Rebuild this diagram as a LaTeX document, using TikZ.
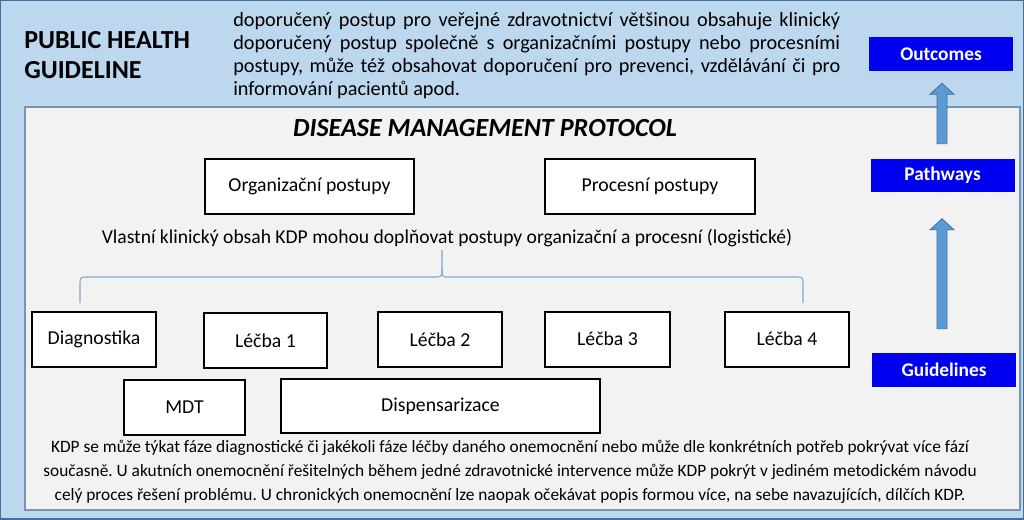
\documentclass[tikz,border=0pt]{standalone}
\usepackage{fontspec}
\setmainfont{Carlito}
\usetikzlibrary{calc}
\definecolor{outerblue}{HTML}{BDD7EE}
\definecolor{edgeblue}{HTML}{41719C}
\definecolor{innergrey}{HTML}{F2F2F2}
\definecolor{inneredge}{HTML}{7A93B0}
\definecolor{arrowblue}{HTML}{5B9BD5}
\definecolor{braceblue}{HTML}{7FA7CF}
\definecolor{levelblue}{HTML}{0000F0}
\newcommand{\blockarrow}[2]{% base, tip
	\draw [arrowbody] ($(#1)+(-5,0)$) -- ($(#2)+(-5,11)$) -- ($(#2)+(-12,11)$) -- (#2) -- ($(#2)+(12,11)$) -- ($(#2)+(5,11)$) -- ($(#1)+(5,0)$) -- cycle;}
\frenchspacing
\begin{document}
\begin{tikzpicture}[x=0.75pt,y=-0.75pt,
	stepbox/.style={draw, line width=1.5pt, fill=white, inner sep=0pt, minimum height=41.25pt, font=\fontsize{14.8}{17}\selectfont},
	levelbox/.style={fill=levelblue, text=white, inner sep=0pt, minimum width=108pt, minimum height=25.5pt, font=\fontsize{14.5}{17}\selectfont\bfseries},
	arrowbody/.style={fill=arrowblue, draw=edgeblue, line width=0.6pt},
	bracestyle/.style={draw=braceblue, line width=0.8pt}]
	\useasboundingbox (0,0) rectangle (1024,519);
	\fill [outerblue, draw=edgeblue, line width=1.5pt] (0,0) rectangle (1024,519);% Public health guideline
	\fill [innergrey, draw=inneredge, line width=0.8pt] (25,107) rectangle (1020,510);% Disease management protocol
	
	\node [anchor=west, align=left, inner sep=0pt, font=\fontsize{19.5}{22.5}\selectfont\bfseries] (phg) at (24,55) {PUBLIC HEALTH\\GUIDELINE};
	\node [anchor=north west, align=justify, text width=455.25pt, inner sep=0pt, font=\fontsize{15.2}{17.25}\selectfont] (phgtext) at (233,12.5) {\hyphenpenalty=10000 doporučený postup pro veřejné zdravotnictví většinou obsahuje klinický\linebreak doporučený postup společně s organizačními postupy nebo procesními\linebreak postupy, může též obsahovat doporučení pro prevenci, vzdělávání či pro\linebreak informování pacientů apod.};
	
	\node [font=\fontsize{19.6}{22}\selectfont\bfseries\itshape] (dmp) at (485,128) {DISEASE MANAGEMENT PROTOCOL};
	
	\node [stepbox, minimum width=156.75pt] (org) at (309.5,186.5) {Organizační postupy};
	\node [stepbox, minimum width=157.5pt] (proc) at (650,186.5) {Procesní postupy};
	\node [font=\fontsize{14.7}{16}\selectfont] (kdp) at (447,238) {Vlastní klinický obsah KDP mohou doplňovat postupy organizační a procesní (logistické)};
	
	% brace over the phases
	\coordinate (BraceL) at (80,303);
	\coordinate (BraceR) at (803,303);
	\coordinate (BraceTip) at (442,250);
	\draw [bracestyle] (BraceL) -- (80,285) .. controls (80,277) .. (88,277) -- (434,277) .. controls (442,277) .. (442,269) -- (BraceTip);
	\draw [bracestyle] (442,269) .. controls (442,277) .. (450,277) -- (795,277) .. controls (803,277) .. (803,285) -- (BraceR);
	
	\node [stepbox, minimum width=93pt] (diag) at (94,339.5) {Diagnostika};
	\node [stepbox, minimum width=92.25pt] (lec1) at (265.5,340.5) {Léčba 1};
	\node [stepbox, minimum width=93pt] (lec2) at (440,339.5) {Léčba 2};
	\node [stepbox, minimum width=93.75pt] (lec3) at (607.5,339) {Léčba 3};
	\node [stepbox, minimum width=93pt] (lec4) at (787,339) {Léčba 4};
	\node [stepbox, minimum width=90.75pt] (mdt) at (184.5,407.5) {MDT};
	\node [stepbox, minimum width=239.25pt, minimum height=40.5pt] (disp) at (440.5,406) {Dispensarizace};
	
	\node [align=center, inner sep=0pt, font=\fontsize{13}{18}\selectfont] (kdpnote) at (510,471.5) {KDP se může týkat fáze diagnostické či jakékoli fáze léčby daného onemocnění nebo může dle konkrétních potřeb pokrývat více fází\\současně. U akutních onemocnění řešitelných během jedné zdravotnické intervence může KDP pokrýt v jediném metodickém návodu\\celý proces řešení problému. U chronických onemocnění lze naopak očekávat popis formou více, na sebe navazujících, dílčích KDP.};
	
	\node [levelbox] (out) at (941,54) {Outcomes};
	\node [levelbox, minimum height=24.75pt] (path) at (942.5,175.5) {Pathways};
	\node [levelbox] (guide) at (944,370) {Guidelines};
	
	\coordinate (ArrA) at ($(guide.north)+(-2,-24)$);
	\coordinate (ArrATip) at ($(path.south)+(-0.5,26.5)$);
	\coordinate (ArrB) at ($(path.north)+(-0.5,-15)$);
	\coordinate (ArrBTip) at ($(out.south)+(1,12)$);
	\blockarrow{ArrA}{ArrATip}
	\blockarrow{ArrB}{ArrBTip}
\end{tikzpicture}
\end{document}
